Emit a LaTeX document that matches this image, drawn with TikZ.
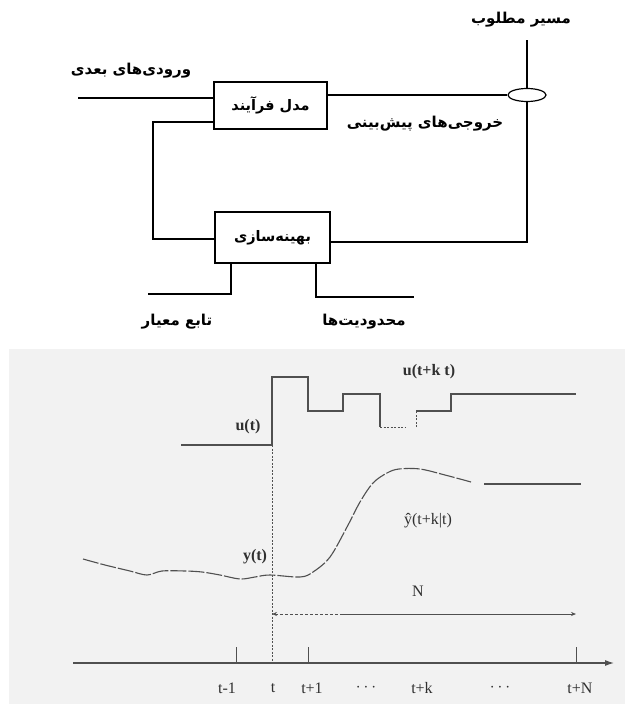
\documentclass[tikz,border=0pt]{standalone}
\usepackage{fontspec}
\setmainfont{Liberation Serif}
\newfontfamily\fa[Script=Arabic]{DejaVu Sans}
\TeXXeTstate=1
\usetikzlibrary{arrows.meta,shapes.geometric}

\definecolor{panelbg}{HTML}{F2F2F2}
\definecolor{plotink}{HTML}{505050}
\definecolor{plottext}{HTML}{303030}

\tikzset{
  wire/.style={line width=1.2pt, draw=black},
  block/.style={draw=black, line width=1.2pt, fill=white, inner sep=0pt,
    font=\fa\bfseries\fontsize{14.5}{17}\selectfont},
  falabel/.style={font=\fa\bfseries\fontsize{15}{18}\selectfont, inner sep=0pt},
  trace/.style={line width=1.1pt, draw=plotink},
  guide/.style={line width=0.6pt, draw=plotink, dash pattern=on 2pt off 1.5pt},
  plotlabel/.style={font=\fontsize{16}{18}\selectfont, text=plottext, inner sep=0pt},
  boldlabel/.style={plotlabel, font=\bfseries\fontsize{16}{18}\selectfont},
}

\begin{document}
\begin{tikzpicture}[x=1pt, y=-1pt]
\useasboundingbox (0,0) rectangle (629,704);

% ---------------- block diagram ----------------
\node[block, minimum width=113pt, minimum height=47pt] (model) at (270.5,105.5)
  {\beginR مدل فرآیند\endR};
\node[block, minimum width=115pt, minimum height=51pt] (opt) at (272.5,237.5)
  {\beginR بهینه‌سازی\endR};
\node[draw=black, line width=1.2pt, ellipse, minimum width=38pt, minimum height=13pt, inner sep=0pt] (sum) at (527,95) {};

\node[falabel] (reflabel) at (521,20) {\beginR مسیر مطلوب\endR};
\node[falabel] (inlabel) at (131,71) {\beginR ورودی‌های بعدی\endR};
\node[falabel] (predlabel) at (425,124) {\beginR خروجی‌های پیش‌بینی\endR};
\node[falabel] (costlabel) at (177,322) {\beginR تابع معیار\endR};
\node[falabel] (conslabel) at (364,322) {\beginR محدودیت‌ها\endR};

\coordinate (refin) at (527,40);
\coordinate (futin) at (78,98);
\coordinate (fbrow) at (0,122);
\coordinate (fbcorner) at (153,239);
\coordinate (errrow) at (0,242);
\coordinate (costleg) at (231,294);
\coordinate (costend) at (148,294);
\coordinate (consleg) at (316,297);
\coordinate (consend) at (414,297);

\draw[wire] (refin) -- (sum.north);
\draw[wire] (futin) -- (futin -| model.west);
\draw[wire] (model.east |- sum.west) -- (sum.west);
\draw[wire] (model.west |- fbrow) -| (fbcorner) -- (fbcorner -| opt.west);
\draw[wire] (opt.east |- errrow) -| (sum.south);
\draw[wire] (opt.south -| costleg) -- (costleg) -- (costend);
\draw[wire] (opt.south -| consleg) -- (consleg) -- (consend);

% ---------------- prediction horizon plot ----------------
\fill[panelbg] (9,349) rectangle (625,704);

% control moves
\draw[trace] (181,445) -- (272,445) -- (272,377) -- (308,377) -- (308,411)
  -- (343,411) -- (343,394) -- (380,394) -- (380,427);
\draw[guide] (380,427) -- (405,427);
\draw[guide] (416,427) -- (416,411);
\draw[trace] (416,411) -- (451,411) -- (451,394) -- (576,394);

% present time marker
\coordinate (now) at (272,445);
\coordinate (nowaxis) at (272,663);
\draw[guide] (now) -- (nowaxis);

% measured and predicted output
\draw[trace, dash pattern=on 16pt off 2pt] plot[smooth, tension=0.55] coordinates {
  (83,559) (105,565) (130,571) (147,575) (162,571) (185,571) (202,572)
  (220,575) (240,579) (255,577) (270,575) (300,577) (313,572) (330,557)
  (347,527) (360,502) (373,483) (387,473) (399,469) (420,469) (445,475) (471,482)};
\draw[trace] (484,484) -- (581,484);

% horizon arrow
\coordinate (hzl) at (272,614);
\coordinate (hzm) at (340,614);
\coordinate (hzr) at (576,614);
\draw[line width=0.7pt, draw=plotink, dash pattern=on 3pt off 2pt, {Stealth[length=5pt,width=4pt]}-] (hzl) -- (hzm);
\draw[line width=0.7pt, draw=plotink, -{Stealth[length=5pt,width=4pt]}] (hzm) -- (hzr);

% time axis
\coordinate (axl) at (73,663);
\coordinate (axr) at (614,663);
\draw[trace, -{Latex[length=9pt,width=6pt]}] (axl) -- (axr);
\foreach \tx in {236,308,576} \draw[line width=0.8pt, draw=plotink] (\tx,647) -- (\tx,663);

% labels
\node[boldlabel] (ulab) at (248,427) {u(t)};
\node[boldlabel] (uklab) at (429,372) {u(t+k t)};
\node[plotlabel] (yhlab) at (428,521) {ŷ(t+k|t)};
\node[boldlabel] (ylab) at (255,557) {y(t)};
\node[plotlabel] (nlab) at (418,591) {N};

\node[plotlabel] (t0) at (227,688) {t-1};
\node[plotlabel] (t1) at (273,688) {t};
\node[plotlabel] (t2) at (312,688) {t+1};
\node[plotlabel] (t3) at (366,688) {$\cdots$};
\node[plotlabel] (t4) at (422,688) {t+k};
\node[plotlabel] (t5) at (500,688) {$\cdots$};
\node[plotlabel] (t6) at (580,688) {t+N};
\end{tikzpicture}
\end{document}
